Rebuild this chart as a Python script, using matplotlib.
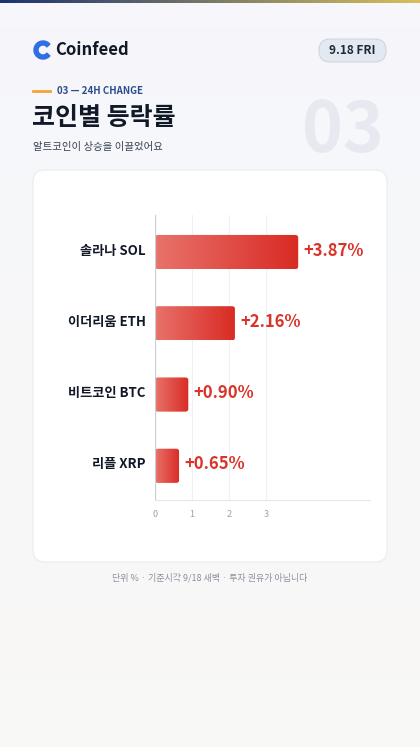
import matplotlib
matplotlib.use("Agg")
import matplotlib.pyplot as plt
import numpy as np
from matplotlib.patches import FancyBboxPatch, Wedge

plt.rcParams['font.family'] = ['Noto Sans CJK KR', 'DejaVu Sans']

coins = ["솔라나 SOL", "이더리움 ETH", "비트코인 BTC", "리플 XRP"]
changes = [3.87, 2.16, 0.90, 0.65]
ticks = [0, 1, 2, 3]

W, H = 420, 747
fig = plt.figure(figsize=(W / 100, H / 100), dpi=100)

# background
bg = fig.add_axes([0, 0, 1, 1])
bg.set_xlim(0, W); bg.set_ylim(H, 0); bg.axis("off")
grad = np.linspace(0, 1, 256).reshape(-1, 1)
bg.imshow(np.dstack([0.965 + 0.01 * grad, 0.968 + 0.005 * grad, 0.985 - 0.02 * grad]),
          extent=[0, W, H, 0], aspect="auto")
top = np.linspace(0, 1, 256).reshape(1, -1)
bg.imshow(np.dstack([0.1 + 0.75 * top, 0.2 + 0.55 * top, 0.45 - 0.1 * top]),
          extent=[0, W, 3, 0], aspect="auto")

# logo
bg.add_patch(Wedge((43, 50), 9, 40, 320, width=4, color="#2f6fe4"))
bg.text(55, 50, "Coinfeed", fontsize=12, fontweight="bold", color="#111827", va="center")
bg.add_patch(FancyBboxPatch((319, 39), 67, 23, boxstyle="round,pad=0,rounding_size=11",
                            fc="#e4e8f0", ec="#cfd6e2", lw=0.8))
bg.text(352, 50.5, "9.18 FRI", fontsize=8.5, fontweight="bold", color="#1f2937",
        ha="center", va="center")

bg.plot([33, 50], [91, 91], color="#f2a33a", lw=2)
bg.text(57, 91, "03 — 24H CHANGE", fontsize=7, fontweight="bold", color="#2a4d8f",
        va="center")
bg.text(32, 118, "코인별 등락률", fontsize=18, fontweight="bold", color="#111827", va="center")
bg.text(33, 147, "알트코인이 상승을 이끌었어요", fontsize=7.5, color="#374151", va="center")
bg.text(343, 132, "03", fontsize=50, fontweight="bold", color="#e6e9ef", ha="center", va="center")

bg.add_patch(FancyBboxPatch((33, 170), 354, 392, boxstyle="round,pad=0,rounding_size=12",
                            fc="white", ec="#e8ebf0", lw=0.8))
bg.text(210, 578, "단위 % · 기준시각 9/18 새벽 · 투자 권유가 아닙니다", fontsize=6.5,
        color="#8a919c", ha="center", va="center")

# chart
ax = fig.add_axes([155 / W, 1 - 500 / H, 215 / W, 285 / H])
ax.set_xlim(0, 215 / 37)
ax.set_ylim(-0.48, 3.52)
ax.axis("off")
for t in ticks[1:]:
    ax.axvline(t, color="#eef0f3", lw=0.8, zorder=0)
ax.axvline(0, color="#c9cdd4", lw=0.9, zorder=3)
ax.plot([0, 215 / 37], [-0.48, -0.48], color="#e5e7eb", lw=0.8, clip_on=False)
for t in ticks:
    ax.text(t, -0.68, str(t), fontsize=6.5, color="#9aa1ab", ha="center", va="center")

ys = [3, 2, 1, 0]
gr = np.linspace(0, 1, 256).reshape(1, -1)
img = np.dstack([0.91 - 0.06 * gr, 0.45 - 0.28 * gr, 0.42 - 0.28 * gr])
for name, v, y in zip(coins, changes, ys):
    h = 0.24
    patch = FancyBboxPatch((0, y - h), v, 2 * h, boxstyle="round,pad=0,rounding_size=0.08",
                           mutation_aspect=1 / 2.4, fc="none", ec="none")
    ax.add_patch(patch)
    im = ax.imshow(img, extent=[0, v, y - h, y + h], aspect="auto", zorder=2)
    im.set_clip_path(patch)
    ax.text(v + 0.15, y + 0.02, f"+{v:.2f}%", fontsize=12, fontweight="bold", color="#d9342b",
            va="center")
    ax.text(-0.25, y + 0.02, name, fontsize=9.5, fontweight="bold", color="#111827",
            ha="right", va="center")

fig.savefig("out.png", dpi=100)
